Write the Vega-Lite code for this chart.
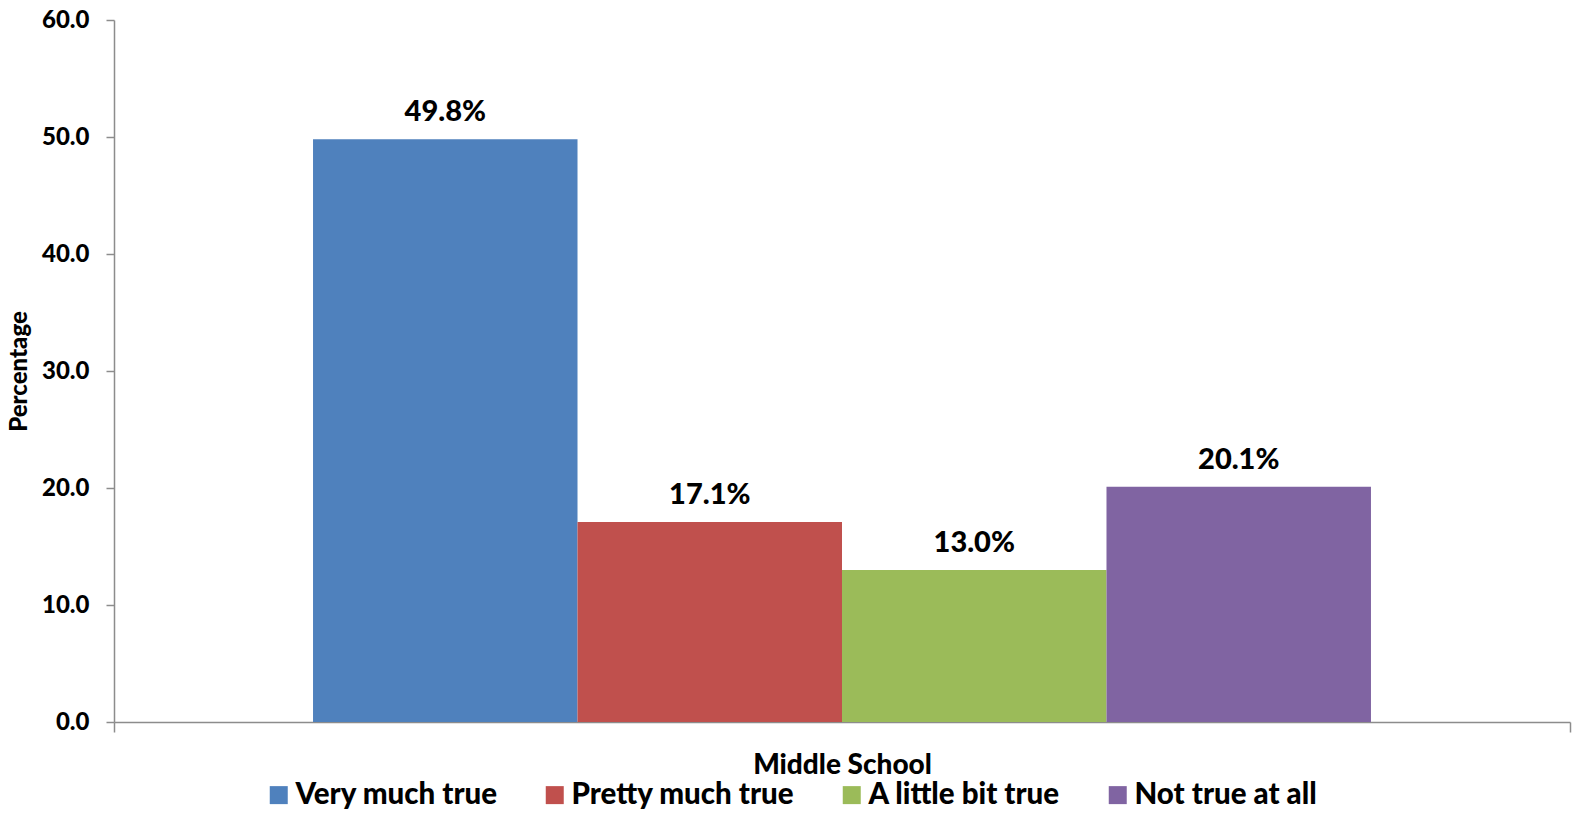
{
  "$schema": "https://vega.github.io/schema/vega-lite/v6.json",
  "width": 1456,
  "height": 702,
  "autosize": {"type": "none"},
  "padding": {"left": 114, "top": 20, "right": 5, "bottom": 118},
  "background": "white",
  "config": {
    "view": {"stroke": null},
    "font": "Lato"
  },
  "data": {
    "values": [
      {"school": "Middle School", "response": "Very much true", "value": 49.8, "label": "49.8%"},
      {"school": "Middle School", "response": "Pretty much true", "value": 17.1, "label": "17.1%"},
      {"school": "Middle School", "response": "A little bit true", "value": 13.0, "label": "13.0%"},
      {"school": "Middle School", "response": "Not true at all", "value": 20.1, "label": "20.1%"}
    ]
  },
  "encoding": {
    "x": {
      "field": "school",
      "type": "nominal",
      "scale": {"paddingInner": 0, "paddingOuter": 0},
      "axis": {
        "title": null,
        "labelAngle": 0,
        "labelFont": "Lato",
        "labelFontWeight": 900,
        "labelFontSize": 28,
        "labelColor": "black",
        "labelPadding": 19,
        "domainColor": "#8c8c8c",
        "domainWidth": 1.5,
        "tickColor": "#8c8c8c",
        "tickWidth": 1.5,
        "tickSize": 10,
        "tickBand": "extent"
      }
    },
    "xOffset": {
      "field": "response",
      "type": "nominal",
      "sort": ["Very much true", "Pretty much true", "A little bit true", "Not true at all"],
      "scale": {"paddingInner": 0, "paddingOuter": 0.7525}
    },
    "y": {
      "field": "value",
      "type": "quantitative",
      "scale": {"domain": [0, 60], "nice": false},
      "axis": {
        "title": "Percentage",
        "titleFont": "Lato",
        "titleFontWeight": 900,
        "titleFontSize": 24,
        "titleColor": "black",
        "titlePadding": 10,
        "values": [0, 10, 20, 30, 40, 50, 60],
        "format": ".1f",
        "grid": false,
        "labelFont": "Lato",
        "labelFontWeight": 900,
        "labelFontSize": 24,
        "labelColor": "black",
        "labelPadding": 17,
        "domainColor": "#8c8c8c",
        "domainWidth": 1.5,
        "tickColor": "#8c8c8c",
        "tickWidth": 1.5,
        "tickSize": 8
      }
    }
  },
  "layer": [
    {
      "mark": {"type": "bar"},
      "encoding": {
        "color": {
          "field": "response",
          "type": "nominal",
          "sort": ["Very much true", "Pretty much true", "A little bit true", "Not true at all"],
          "scale": {
            "domain": ["Very much true", "Pretty much true", "A little bit true", "Not true at all"],
            "range": ["#4F81BD", "#C0504D", "#9BBB59", "#8064A2"]
          },
          "legend": {
            "title": null,
            "orient": "none",
            "direction": "horizontal",
            "legendX": 150,
            "legendY": 760,
            "symbolType": "square",
            "symbolSize": 324,
            "symbolStrokeWidth": 0,
            "symbolOpacity": 1,
            "labelFont": "Lato",
            "labelFontWeight": 900,
            "labelFontSize": 29.5,
            "labelColor": "black",
            "labelOffset": 2,
            "columnPadding": 42,
            "labelLimit": 400
          }
        }
      }
    },
    {
      "mark": {"type": "text", "baseline": "alphabetic", "dy": -18, "font": "Lato", "fontWeight": 900, "fontSize": 29, "color": "black"},
      "encoding": {
        "text": {"field": "label"}
      }
    }
  ]
}
